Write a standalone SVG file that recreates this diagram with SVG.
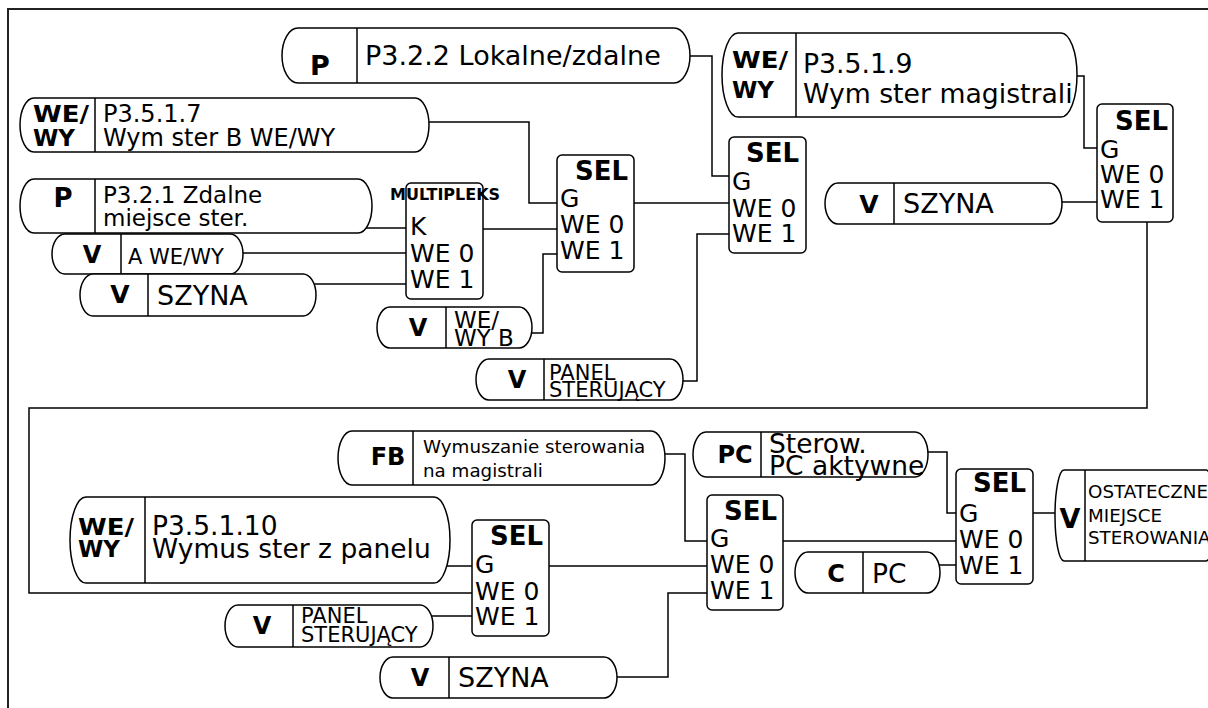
<svg xmlns="http://www.w3.org/2000/svg" width="1208" height="708" viewBox="0 0 1208 708">
<style>
.bg{fill:#fff}
.n{fill:#fff;stroke:#000;stroke-width:1.5}
.d{fill:none;stroke:#000;stroke-width:1.5}
.c{fill:none;stroke:#000;stroke-width:1.5}
.fr{fill:none;stroke:#222;stroke-width:2}
text{font-family:"DejaVu Sans",Verdana,sans-serif;fill:#000}
.b{font-weight:bold}
.m{text-anchor:middle}
.t26{font-size:26.5px}
.t24{font-size:24px}
.t23b{font-size:23px;font-weight:bold}
.t21{font-size:21px}
.t18{font-size:18.3px}
.s{font-size:25px}
.sel{font-size:26px;font-weight:bold;text-anchor:end}
</style>
<rect class="bg" x="0" y="0" width="1208" height="708"/>
<path class="fr" d="M8,708 V9 H1208"/>

<g id="connectors">
<path class="c" d="M690,56 H712 V176 H729"/>
<path class="c" d="M429,122 H529 V203 H557"/>
<path class="c" d="M365,228 H406"/>
<path class="c" d="M243,253 H406"/>
<path class="c" d="M314,284 H406"/>
<path class="c" d="M483,229 H557"/>
<path class="c" d="M531,333 H543 V254 H557"/>
<path class="c" d="M682,381 H697 V234 H729"/>
<path class="c" d="M634,203 H729"/>
<path class="c" d="M1077,76 H1084 V148 H1097"/>
<path class="c" d="M1061,202 H1097"/>
<path class="c" d="M1147,222 V408 H29 V593 H472"/>
<path class="c" d="M447,566 H472"/>
<path class="c" d="M432,616 H472"/>
<path class="c" d="M549,566 H707"/>
<path class="c" d="M665,454 H685 V541 H707"/>
<path class="c" d="M616,677 H668 V593 H707"/>
<path class="c" d="M783,541 H956"/>
<path class="c" d="M928,452 H947 V513 H956"/>
<path class="c" d="M939,565 H956"/>
<path class="c" d="M1033,513 H1056"/>
</g>

<g id="node-p322">
<path class="n" d="M298,28 H674 A16,27.5 0 0 1 674,83 H298 A16,27.5 0 0 1 298,28 Z"/>
<path class="d" d="M357,28 V83"/>
<text class="b m" x="320" y="75" font-size="27">P</text>
<text x="365" y="65" font-size="27">P3.2.2 Lokalne/zdalne</text>
</g>

<g id="node-p3517">
<path class="n" d="M34,98 H415 A14,27 0 0 1 415,152 H34 A14,27 0 0 1 34,98 Z"/>
<path class="d" d="M95,98 V152"/>
<text class="t23b" x="33" y="122" textLength="56" lengthAdjust="spacingAndGlyphs">WE/</text>
<text class="t23b" x="33" y="146">WY</text>
<text class="t24" x="103" y="122">P3.5.1.7</text>
<text class="t24" x="103" y="146">Wym ster B WE/WY</text>
</g>

<g id="node-p321">
<path class="n" d="M34,179 H358 A14,27 0 0 1 358,233 H34 A14,27 0 0 1 34,179 Z"/>
<path class="d" d="M95,179 V233"/>
<text class="b m" x="63" y="207" font-size="26">P</text>
<text x="103" y="203" font-size="23">P3.2.1 Zdalne</text>
<text x="103" y="226" font-size="23">miejsce ster.</text>
</g>

<g id="node-v-awewy">
<path class="n" d="M65,234 H230 A13,20 0 0 1 230,274 H65 A13,20 0 0 1 65,234 Z"/>
<path class="d" d="M121,234 V274"/>
<text class="b m" x="92" y="263" font-size="24">V</text>
<text class="t21" x="128" y="264">A WE/WY</text>
</g>

<g id="node-v-szyna1">
<path class="n" d="M93,274 H303 A13,21 0 0 1 303,316 H93 A13,21 0 0 1 93,274 Z"/>
<path class="d" d="M148,274 V316"/>
<text class="b m" x="120" y="303" font-size="25">V</text>
<text x="157" y="305" font-size="27">SZYNA</text>
</g>

<g id="node-multipleks">
<rect class="n" x="406" y="183" width="77" height="116" rx="5"/>
<text class="b" x="390" y="200" font-size="16">MULTIPLEKS</text>
<text class="s" x="410" y="235">K</text>
<text class="s" x="410" y="262">WE 0</text>
<text class="s" x="410" y="288">WE 1</text>
</g>

<g id="node-v-wewyb">
<path class="n" d="M390,307 H519 A13,20.5 0 0 1 519,348 H390 A13,20.5 0 0 1 390,307 Z"/>
<path class="d" d="M446,307 V348"/>
<text class="b m" x="418" y="336" font-size="24">V</text>
<text x="454" y="328" font-size="23">WE/</text>
<text x="454" y="346" font-size="23">WY B</text>
</g>

<g id="node-v-panel1">
<path class="n" d="M489,359 H670 A13,20.5 0 0 1 670,400 H489 A13,20.5 0 0 1 489,359 Z"/>
<path class="d" d="M544,359 V400"/>
<text class="b m" x="517" y="388" font-size="24">V</text>
<text class="t21" x="549" y="380">PANEL</text>
<text class="t21" x="549" y="397">STERUJĄCY</text>
</g>

<g id="node-sel1">
<rect class="n" x="557" y="155" width="77" height="117" rx="5"/>
<text class="sel" x="628" y="180">SEL</text>
<text class="s" x="560" y="207">G</text>
<text class="s" x="560" y="233">WE 0</text>
<text class="s" x="560" y="259">WE 1</text>
</g>

<g id="node-sel2">
<rect class="n" x="729" y="137" width="77" height="116" rx="5"/>
<text class="sel" x="799" y="162">SEL</text>
<text class="s" x="732" y="190">G</text>
<text class="s" x="732" y="217">WE 0</text>
<text class="s" x="732" y="242">WE 1</text>
</g>

<g id="node-p3519">
<path class="n" d="M738,33 H1061 A16,42 0 0 1 1061,117 H738 A16,42 0 0 1 738,33 Z"/>
<path class="d" d="M796,33 V117"/>
<text class="t23b" x="732" y="68" textLength="56" lengthAdjust="spacingAndGlyphs">WE/</text>
<text class="t23b" x="732" y="98">WY</text>
<text x="803" y="73" font-size="26.7">P3.5.1.9</text>
<text x="803" y="103" font-size="26.7">Wym ster magistrali</text>
</g>

<g id="node-v-szyna2">
<path class="n" d="M838,183 H1049 A13,20.5 0 0 1 1049,224 H838 A13,20.5 0 0 1 838,183 Z"/>
<path class="d" d="M894,183 V224"/>
<text class="b m" x="869" y="213" font-size="25">V</text>
<text x="903" y="213" font-size="27">SZYNA</text>
</g>

<g id="node-sel3">
<rect class="n" x="1097" y="104" width="76" height="118" rx="5"/>
<text class="sel" x="1168" y="130">SEL</text>
<text class="s" x="1100" y="158">G</text>
<text class="s" x="1100" y="183">WE 0</text>
<text class="s" x="1100" y="208">WE 1</text>
</g>

<g id="node-fb">
<path class="n" d="M352,431 H651 A14,27 0 0 1 651,485 H352 A14,27 0 0 1 352,431 Z"/>
<path class="d" d="M413,431 V485"/>
<text class="b m" x="388" y="465" font-size="24">FB</text>
<text class="t18" x="423" y="453">Wymuszanie sterowania</text>
<text class="t18" x="423" y="477">na magistrali</text>
</g>

<g id="node-pc-aktywne">
<path class="n" d="M706,432 H915 A13,22.5 0 0 1 915,477 H706 A13,22.5 0 0 1 706,432 Z"/>
<path class="d" d="M761,432 V477"/>
<text class="b m" x="735" y="463" font-size="24">PC</text>
<text class="t26" x="769" y="453">Sterow.</text>
<text class="t26" x="769" y="475">PC aktywne</text>
</g>

<g id="node-p35110">
<path class="n" d="M86,497 H434 A16,43 0 0 1 434,583 H86 A16,43 0 0 1 86,497 Z"/>
<path class="d" d="M145,497 V583"/>
<text class="t23b" x="78" y="535" textLength="56" lengthAdjust="spacingAndGlyphs">WE/</text>
<text class="t23b" x="78" y="557">WY</text>
<text class="t26" x="152" y="535">P3.5.1.10</text>
<text class="t26" x="152" y="558">Wymus ster z panelu</text>
</g>

<g id="node-v-panel2">
<path class="n" d="M238,605 H420 A13,21 0 0 1 420,647 H238 A13,21 0 0 1 238,605 Z"/>
<path class="d" d="M293,605 V647"/>
<text class="b m" x="262" y="634" font-size="24">V</text>
<text class="t21" x="301" y="623">PANEL</text>
<text class="t21" x="301" y="642">STERUJĄCY</text>
</g>

<g id="node-v-szyna3">
<path class="n" d="M393,657 H604 A13,20.5 0 0 1 604,698 H393 A13,20.5 0 0 1 393,657 Z"/>
<path class="d" d="M449,657 V698"/>
<text class="b m" x="420" y="686" font-size="24">V</text>
<text x="458" y="687" font-size="27">SZYNA</text>
</g>

<g id="node-sel4">
<rect class="n" x="472" y="520" width="77" height="116" rx="5"/>
<text class="sel" x="543" y="545">SEL</text>
<text class="s" x="475" y="573">G</text>
<text class="s" x="475" y="600">WE 0</text>
<text class="s" x="475" y="625">WE 1</text>
</g>

<g id="node-sel5">
<rect class="n" x="707" y="495" width="76" height="115" rx="5"/>
<text class="sel" x="777" y="520">SEL</text>
<text class="s" x="710" y="547">G</text>
<text class="s" x="710" y="573">WE 0</text>
<text class="s" x="710" y="599">WE 1</text>
</g>

<g id="node-c-pc">
<path class="n" d="M808,552 H927 A13,20.5 0 0 1 927,593 H808 A13,20.5 0 0 1 808,552 Z"/>
<path class="d" d="M863,552 V593"/>
<text class="b m" x="836" y="582" font-size="24">C</text>
<text class="t26" x="872" y="583">PC</text>
</g>

<g id="node-sel6">
<rect class="n" x="956" y="469" width="77" height="115" rx="5"/>
<text class="sel" x="1026" y="492">SEL</text>
<text class="s" x="959" y="522">G</text>
<text class="s" x="959" y="548">WE 0</text>
<text class="s" x="959" y="574">WE 1</text>
</g>

<g id="node-v-ostateczne">
<path class="n" d="M1064,470 H1206 A9,45.5 0 0 1 1206,561 H1064 A9,45.5 0 0 1 1064,470 Z"/>
<path class="d" d="M1085,470 V561"/>
<text class="b m" x="1070" y="528" font-size="27">V</text>
<text class="t18" x="1088" y="498">OSTATECZNE</text>
<text class="t18" x="1088" y="522">MIEJSCE</text>
<text class="t18" x="1088" y="544">STEROWANIA</text>
</g>
</svg>
